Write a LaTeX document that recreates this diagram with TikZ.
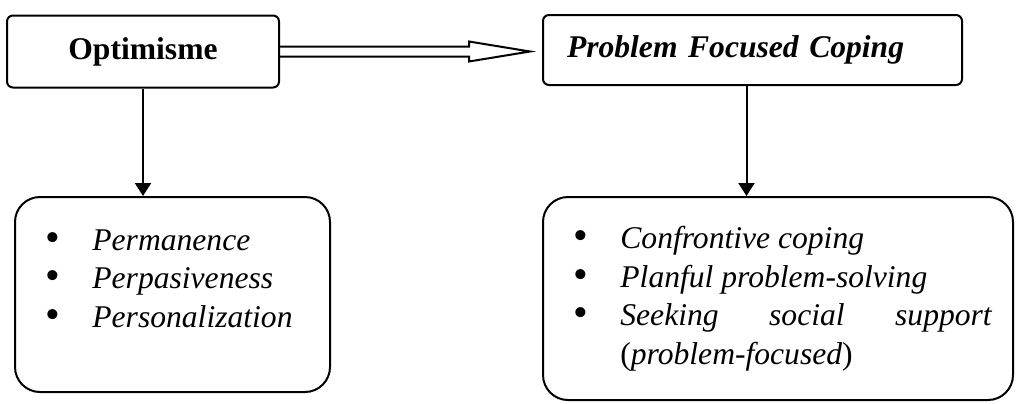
\documentclass[tikz,border=0pt]{standalone}
\usepackage{fontspec}
\setmainfont{Liberation Serif}[
	UprightFont=*,
	BoldFont=* Bold,
	ItalicFont=* Italic,
	BoldItalicFont=* Bold Italic]
\usetikzlibrary{arrows.meta,calc}
\tikzset{
	headbox/.style={draw, line width=1pt, rounded corners=3pt, inner sep=0pt, minimum height=36pt, font=\fontsize{15.8}{19.3}\selectfont\bfseries},
	listbox/.style={draw, line width=1pt, rounded corners=12.5pt},
	listtext/.style={anchor=north west, inner sep=0pt, align=left, font=\fontsize{15.8}{19.3}\selectfont},
	downarrow/.style={line width=1pt, -{Triangle[length=6.5pt,width=8pt]}},
	bigarrow/.style={line width=1pt, line join=miter}
}
\newcommand{\pnt}{\makebox[23.5pt][l]{\raisebox{-0.5pt}{\smash{\fontsize{21}{0}\selectfont\textbullet}}}}

\begin{document}
\begin{tikzpicture}[x=0.5pt,y=-0.5pt]
		%%%%% START %%%%%
		\useasboundingbox (0,0) rectangle (1017,403);
		
		\node[headbox, minimum width=136pt] (opt) at (143,51.5) {Optimisme};
		\node[headbox, minimum width=209.5pt, minimum height=35pt, text width=185.5pt, inner xsep=12pt, align=left] (pfc) at (752.5,50) {\textit{Problem Focused Coping}};
		
		\node[listbox, minimum width=157.5pt, minimum height=97.5pt] (perm) at (172.5,294.5) {};
		\node[listtext] (permtext) at (45,229) {\pnt\textit{Permanence}\\ \pnt\textit{Perpasiveness}\\ \pnt\textit{Personalization}};
		
		\node[listbox, minimum width=235pt, minimum height=101.5pt] (cop) at (778,298.5) {};
		\node[listtext] (coptext) at (573,226) {\pnt\textit{Confrontive coping}\\ \pnt\textit{Planful problem-solving}\\ \pnt\parbox[t]{186pt}{\textit{Seeking}\hfill\textit{social}\hfill\textit{support}\\(\textit{problem-focused})}};
		
		\draw[bigarrow] ([yshift=2.5pt]opt.east) -- ++(94.5pt,0) -- ++(0,2.5pt) -- ([xshift=-6pt]pfc.west |- opt.east) -- ([xshift=94.5pt,yshift=-5pt]opt.east) -- ++(0,2.5pt) -- ([yshift=-2.5pt]opt.east);
		
		\draw[downarrow] (opt.south) -- (opt.south |- perm.north);
		\draw[downarrow] ([xshift=-3pt]pfc.south) -- ([xshift=-3pt]pfc.south |- cop.north);
		
		%%%%% END %%%%%
\end{tikzpicture}
\end{document}
